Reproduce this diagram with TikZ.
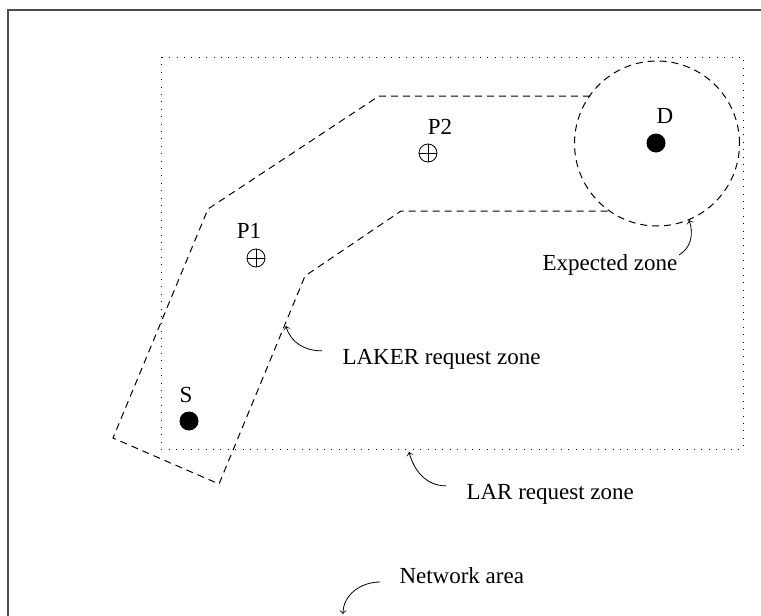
\documentclass[tikz,border=0pt]{standalone}
\usepackage{fontspec}
\setmainfont{Liberation Serif}
\usetikzlibrary{positioning}
\tikzset{every picture/.style={x=0.5pt,y=-0.5pt,line width=0.5pt,font=\fontsize{11.5}{14}\selectfont},
  zone/.style={dash pattern=on 3.5pt off 2.5pt},
  larzone/.style={dash pattern=on 0.5pt off 3.2pt,line width=0.5pt},
  host/.style={circle,fill,inner sep=0pt,minimum size=9.5pt},
  relay/.style={circle,draw,inner sep=0pt,minimum size=9pt,line width=0.4pt},
  note/.style={->,line width=0.4pt}}

\begin{document}
\begin{tikzpicture}
\useasboundingbox (0,0) rectangle (761,616);
\clip (0,0) rectangle (761,616);
% network area (cut by the page)
\draw[black!70,line width=1pt] (8,10) rectangle (800,700);

% LAR request zone
\draw[larzone] (161,57) rectangle (743,449);

% expected zone
\node (ez) at (657,143.5) [circle,draw,zone,minimum size=82.5pt,inner sep=0pt] {};

% LAKER request zone
\draw[zone] (590,96) -- (379,96) -- (208,209) -- (113,438) -- (219,484)
  -- (305,276) -- (401,211) -- (610,211);

% nodes
\node (s) at (189,421) [host] {};
\node (sn) at (186,395) {S};
\node (d) at (656,143) [host] {};
\node (dn) at (665,116) {D};
\node (p1) at (256,258) [relay] {};
\node (p1n) at (249,231) {P1};
\draw[line width=0.4pt] (p1.north) -- (p1.south) (p1.west) -- (p1.east);
\node (p2) at (428,153) [relay] {};
\node (p2n) at (440,127) {P2};
\draw[line width=0.4pt] (p2.north) -- (p2.south) (p2.west) -- (p2.east);

% notes
\node (lakern) at (342,364) [anchor=base west,inner sep=0pt] {LAKER request zone};
\coordinate (laker) at (286,326);
\draw[note] (lakern.west) ++(-20,-8) coordinate (t1) (t1) to[out=180,in=-75] (laker);

\node (larn) at (466,499) [anchor=base west,inner sep=0pt] {LAR request zone};
\coordinate (lar) at (409,452);
\draw[note] (larn.west) ++(-20,-8) coordinate (t2) (t2) to[out=180,in=-75] (lar);

\node (expn) at (542,270) [anchor=base west,inner sep=0pt] {Expected zone};
\coordinate (exp) at (689,220);
\draw[note] (679,255) coordinate (t3) (t3) to[out=30,in=-70] (exp);

\node (netn) at (399,583) [anchor=base west,inner sep=0pt] {Network area};
\coordinate (net) at (343,614);
\draw[note] (380,582) coordinate (t4) (t4) to[out=180,in=90] (net);
\end{tikzpicture}
\end{document}
